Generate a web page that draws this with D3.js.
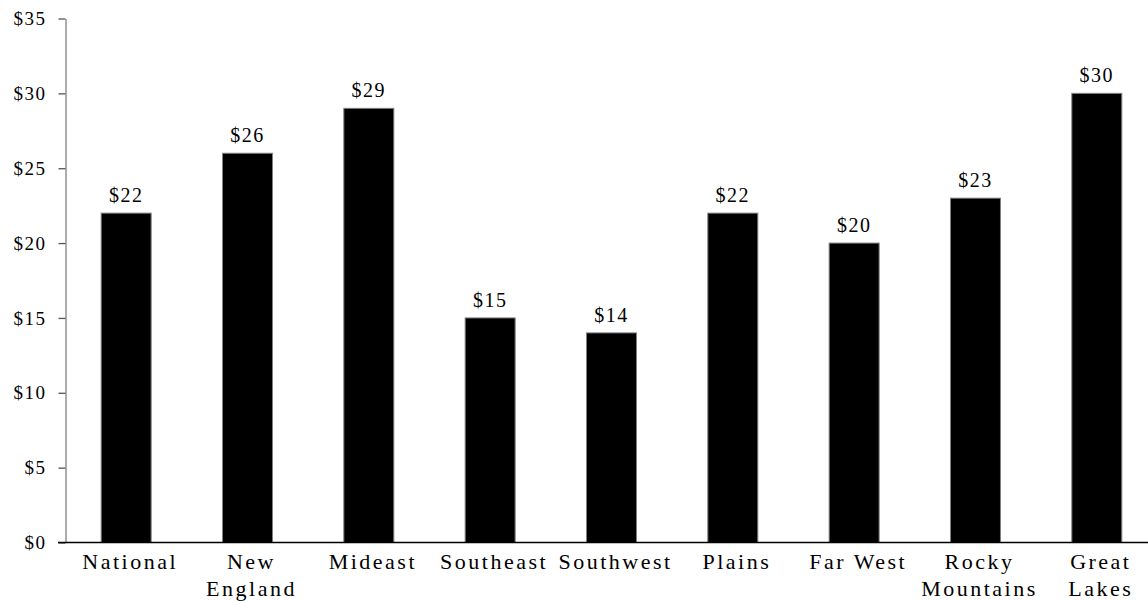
<!DOCTYPE html>
<html>
<head>
<meta charset="utf-8">
<script src="https://cdn.jsdelivr.net/npm/d3@7"></script>
<style>
  html, body { margin: 0; padding: 0; background: #fff; }
  svg { display: block; }
  text { font-family: "Liberation Serif", "Times New Roman", serif; fill: #000; }
</style>
</head>
<body>
<svg id="chart" width="1148" height="601"></svg>
<script>
// Regional values (dollars)
const categories = ["National", "New England", "Mideast", "Southeast", "Southwest",
                    "Plains", "Far West", "Rocky Mountains", "Great Lakes"];
// Category labels broken into lines
const categoryLines = [["National"], ["New", "England"], ["Mideast"], ["Southeast"], ["Southwest"],
                       ["Plains"], ["Far West"], ["Rocky", "Mountains"], ["Great", "Lakes"]];
const values = [22, 26, 29, 15, 14, 22, 20, 23, 30];
const yTicks = [0, 5, 10, 15, 20, 25, 30, 35];

const svg = d3.select("#chart");
const W = 1148;

const x = d3.scaleBand()
  .domain(categories)
  .range([65.5, 65.5 + 9 * 121.33])
  .paddingInner(0.588)
  .paddingOuter(0.294);

const y = d3.scaleLinear()
  .domain([0, 35])
  .range([542.5, 18.5]);

// Y axis: grey line and ticks, dollar labels
const yAxis = svg.append("g")
  .attr("transform", "translate(65.5,0)")
  .call(d3.axisLeft(y).tickValues(yTicks).tickSize(7).tickSizeOuter(0).tickPadding(12)
    .tickFormat(d => "$" + d));
yAxis.select(".domain").attr("stroke", "#808080").attr("stroke-width", 1.3);
yAxis.selectAll(".tick line").attr("stroke", "#555").attr("stroke-width", 1.3);
yAxis.selectAll(".tick text")
  .attr("font-size", 19)
  .attr("letter-spacing", 1.5)
  .attr("font-family", "'Liberation Serif', 'Times New Roman', serif")
  .attr("fill", "#000");

// Bars
svg.append("g")
  .selectAll("rect")
  .data(values)
  .join("rect")
  .attr("x", (d, i) => x(categories[i]))
  .attr("y", d => y(d))
  .attr("width", x.bandwidth())
  .attr("height", d => y(0) - y(d))
  .attr("fill", "#000")
  .attr("stroke", "#808080")
  .attr("stroke-width", 1);

// X axis baseline
svg.append("line")
  .attr("x1", 58).attr("x2", W)
  .attr("y1", y(0)).attr("y2", y(0))
  .attr("stroke", "#000")
  .attr("stroke-width", 1.5);

// Value labels above bars
svg.append("g")
  .selectAll("text")
  .data(values)
  .join("text")
  .attr("x", (d, i) => x(categories[i]) + x.bandwidth() / 2)
  .attr("y", d => y(d) - 11)
  .attr("text-anchor", "middle")
  .attr("font-size", 20)
  .attr("letter-spacing", 1.5)
  .text(d => "$" + d);

// Category labels
const catG = svg.append("g")
  .selectAll("text")
  .data(categoryLines)
  .join("text")
  .attr("text-anchor", "middle")
  .attr("font-size", 22)
  .attr("letter-spacing", 2.5)
  .attr("x", (d, i) => x(categories[i]) + x.bandwidth() / 2 + 4)
  .attr("y", 569);

catG.selectAll("tspan")
  .data(d => d)
  .join("tspan")
  .attr("x", function () { return d3.select(this.parentNode).attr("x"); })
  .attr("dy", (d, j) => j === 0 ? 0 : 27)
  .text(d => d);
</script>
</body>
</html>
